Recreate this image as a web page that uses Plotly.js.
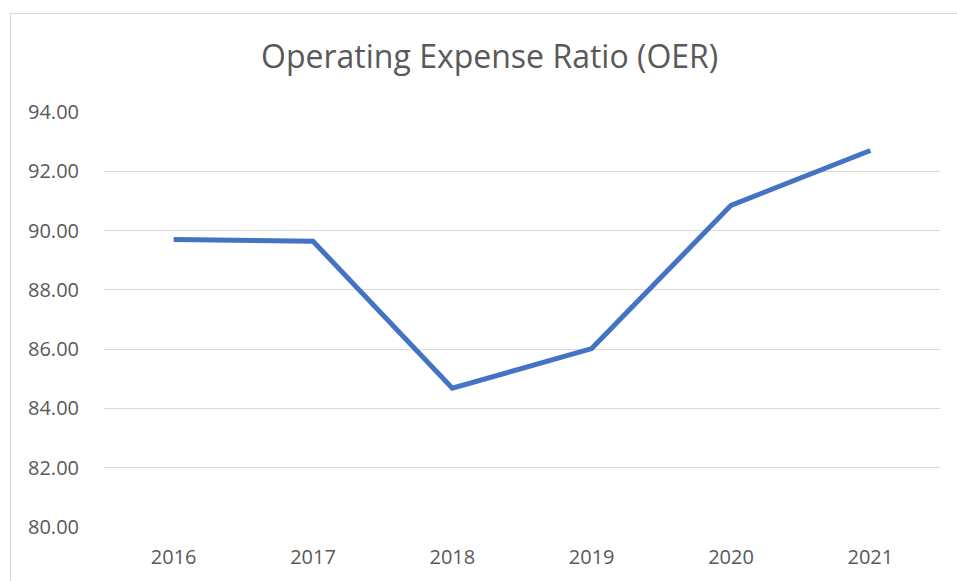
<!DOCTYPE html>
<html>
<head>
<meta charset="utf-8">
<script src="https://cdn.plot.ly/plotly-3.0.1.min.js"></script>
<style>
  html, body { margin: 0; padding: 0; background: #fff; overflow: hidden; }
  #frame { position: absolute; left: 10px; top: 13px; width: 960px; height: 580px; border: 1px solid #d9d9d9; box-sizing: border-box; }
  #chart { position: absolute; left: 11px; top: 14px; width: 946px; height: 567px; }
</style>
</head>
<body>
<div id="frame"></div>
<div id="chart"></div>
<script>
const years = ['2016', '2017', '2018', '2019', '2020', '2021'];
const oer = [89.70, 89.64, 84.68, 86.02, 90.85, 92.70];
const yTicks = [80, 82, 84, 86, 88, 90, 92, 94];
const chartTitle = 'Operating Expense Ratio (OER)';

const trace = {
  x: years,
  y: oer,
  type: 'scatter',
  mode: 'lines',
  line: { color: '#4472C4', width: 5 },
  hoverinfo: 'x+y'
};

const layout = {
  width: 946,
  height: 567,
  margin: { l: 93, r: 17, t: 98, b: 54 },
  paper_bgcolor: 'rgba(0,0,0,0)',
  plot_bgcolor: 'rgba(0,0,0,0)',
  font: { family: 'Open Sans, sans-serif', color: '#595959', size: 20 },
  title: {
    text: chartTitle,
    font: { family: 'Open Sans, sans-serif', size: 32, color: '#595959' },
    xref: 'container', x: 0.506, xanchor: 'center',
    yref: 'container', y: 0.924, yanchor: 'middle'
  },
  showlegend: false,
  xaxis: {
    type: 'category',
    range: [-0.5, years.length - 0.5],
    showgrid: false,
    zeroline: false,
    showline: false,
    ticks: 'outside', ticklen: 12, tickcolor: 'rgba(0,0,0,0)',
    tickfont: { size: 20, color: '#595959' }
  },
  yaxis: {
    range: [80, 94],
    tickvals: yTicks,
    tickformat: '.2f',
    showgrid: true,
    gridcolor: '#d9d9d9',
    gridwidth: 1,
    zeroline: false,
    showline: false,
    ticks: 'outside', ticklen: 20, tickcolor: 'rgba(0,0,0,0)',
    tickfont: { size: 20, color: '#595959' }
  }
};

Plotly.newPlot('chart', [trace], layout, { displayModeBar: false, staticPlot: true });
</script>
</body>
</html>
